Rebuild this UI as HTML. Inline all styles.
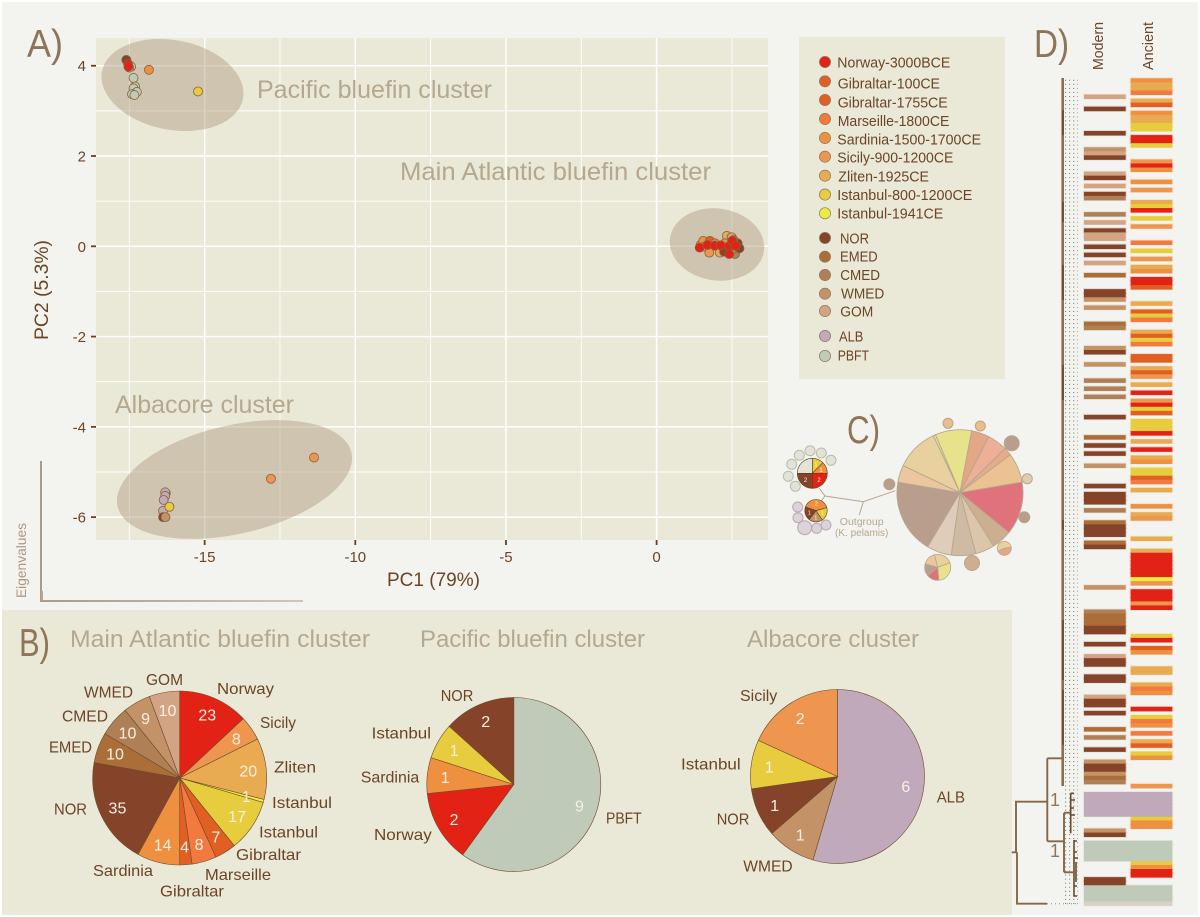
<!DOCTYPE html>
<html lang="en">
<head>
<meta charset="utf-8">
<title>Bluefin tuna PCA, cluster composition and phylogeny</title>
<style>
html,body{margin:0;padding:0;background:#fff;}
svg{display:block;font-family:"Liberation Sans",sans-serif;}
.lab{font-size:16px;fill:#6c4526;}
.leg{font-size:14.5px;fill:#6c4526;}
.clu{font-size:25px;fill:#b4a88f;}
.ttl{font-size:24px;fill:#b4a88f;}
.pan{font-size:39px;fill:#8f7558;}
.axt{font-size:19px;fill:#6c4526;}
</style>
</head>
<body>
<svg id="figure" width="1200" height="917" viewBox="0 0 1200 917" xmlns="http://www.w3.org/2000/svg">
  <defs>
    <linearGradient id="eigenFade" gradientUnits="userSpaceOnUse" x1="41" y1="601" x2="303" y2="601">
      <stop offset="0" stop-color="#ad9a82"/>
      <stop offset="1" stop-color="#d0c6b6"/>
    </linearGradient>
  </defs>
  <rect x="2" y="2" width="1196" height="913" fill="#f3f4ef"/>
  <rect x="2" y="610" width="1010" height="305" fill="#eae8d7"/>

  <!-- Panel A -->
  <text class="pan" x="27" y="57" textLength="36" lengthAdjust="spacingAndGlyphs">A)</text>
  <rect x="96" y="38" width="672" height="502" fill="#eae8d7"/>
  <g id="grid"></g>
  <g fill="#ae9a7e" fill-opacity="0.45">
    <ellipse cx="172.5" cy="85" rx="71.8" ry="44.8" transform="rotate(11 172.5 85)"/>
    <ellipse cx="717" cy="244.5" rx="47.4" ry="36" transform="rotate(8 717 244.5)"/>
    <ellipse cx="234.5" cy="479.5" rx="120" ry="54.3" transform="rotate(-13 234.5 479.5)"/>
  </g>
  <g id="axes"></g>
  <g id="points"></g>
  <text class="clu" x="257" y="98" textLength="235" lengthAdjust="spacingAndGlyphs">Pacific bluefin cluster</text>
  <text class="clu" x="400" y="180" textLength="311" lengthAdjust="spacingAndGlyphs">Main Atlantic bluefin cluster</text>
  <text class="clu" x="115" y="413" textLength="179" lengthAdjust="spacingAndGlyphs">Albacore cluster</text>
  <text class="axt" x="387" y="586" textLength="93" lengthAdjust="spacingAndGlyphs">PC1 (79%)</text>
  <text class="axt" x="48" y="340" transform="rotate(-90 48 340)" textLength="100" lengthAdjust="spacingAndGlyphs">PC2 (5.3%)</text>

  <!-- Eigenvalue inset -->
  <g id="eigen">
    <path d="M41 461V602" fill="none" stroke="#ad9a82" stroke-width="2"/>
    <rect x="41" y="600" width="262" height="2" fill="url(#eigenFade)"/>
    <text x="26" y="598" transform="rotate(-90 26 598)" font-size="13.5" fill="#a99a85" textLength="75" lengthAdjust="spacingAndGlyphs">Eigenvalues</text>
  </g>

  <!-- Legend -->
  <rect x="799" y="37" width="206" height="342" fill="#eae8d7"/>
  <g id="legend" stroke-width="0.7" stroke="#8d7a5e">
    <g><circle cx="825" cy="62" r="5.6" fill="#e22214"/><text class="leg" stroke="none" x="837.3" y="67.7" textLength="113" lengthAdjust="spacingAndGlyphs">Norway-3000BCE</text></g>
    <g><circle cx="825" cy="81.3" r="5.6" fill="#e15f22"/><text class="leg" stroke="none" x="837.7" y="88.3" textLength="102.3" lengthAdjust="spacingAndGlyphs">Gibraltar-100CE</text></g>
    <g><circle cx="825" cy="100" r="5.6" fill="#e15f22"/><text class="leg" stroke="none" x="837.7" y="107.3" textLength="110" lengthAdjust="spacingAndGlyphs">Gibraltar-1755CE</text></g>
    <g><circle cx="825" cy="119" r="5.6" fill="#f27a3f"/><text class="leg" stroke="none" x="837.7" y="126" textLength="111.7" lengthAdjust="spacingAndGlyphs">Marseille-1800CE</text></g>
    <g><circle cx="825" cy="138" r="5.6" fill="#ee9040"/><text class="leg" stroke="none" x="837.3" y="144.3" textLength="143.7" lengthAdjust="spacingAndGlyphs">Sardinia-1500-1700CE</text></g>
    <g><circle cx="825" cy="156.7" r="5.6" fill="#ee9550"/><text class="leg" stroke="none" x="837.3" y="162.7" textLength="116" lengthAdjust="spacingAndGlyphs">Sicily-900-1200CE</text></g>
    <g><circle cx="825" cy="175.7" r="5.6" fill="#e9ab52"/><text class="leg" stroke="none" x="838.3" y="181.3" textLength="90.7" lengthAdjust="spacingAndGlyphs">Zliten-1925CE</text></g>
    <g><circle cx="825" cy="194.6" r="5.6" fill="#e7cc3e"/><text class="leg" stroke="none" x="837.3" y="200" textLength="135" lengthAdjust="spacingAndGlyphs">Istanbul-800-1200CE</text></g>
    <g><circle cx="825" cy="213.3" r="5.6" fill="#edeb40"/><text class="leg" stroke="none" x="837.3" y="218.7" textLength="106" lengthAdjust="spacingAndGlyphs">Istanbul-1941CE</text></g>
    <g><circle cx="825" cy="238" r="5.6" fill="#85442a"/><text class="leg" stroke="none" x="840" y="243.3" textLength="29" lengthAdjust="spacingAndGlyphs">NOR</text></g>
    <g><circle cx="825" cy="256.7" r="5.6" fill="#ab6e38"/><text class="leg" stroke="none" x="840" y="261.7" textLength="37.7" lengthAdjust="spacingAndGlyphs">EMED</text></g>
    <g><circle cx="825" cy="275" r="5.6" fill="#af8056"/><text class="leg" stroke="none" x="840.3" y="280" textLength="39.7" lengthAdjust="spacingAndGlyphs">CMED</text></g>
    <g><circle cx="825" cy="293.7" r="5.6" fill="#c39367"/><text class="leg" stroke="none" x="841" y="298.7" textLength="43.3" lengthAdjust="spacingAndGlyphs">WMED</text></g>
    <g><circle cx="825" cy="311" r="5.6" fill="#d3a483"/><text class="leg" stroke="none" x="840.3" y="316.7" textLength="33" lengthAdjust="spacingAndGlyphs">GOM</text></g>
    <g><circle cx="825" cy="336" r="5.6" fill="#bfa9ba"/><text class="leg" stroke="none" x="839" y="341.7" textLength="24.3" lengthAdjust="spacingAndGlyphs">ALB</text></g>
    <g><circle cx="825" cy="356" r="5.6" fill="#bfcab8"/><text class="leg" stroke="none" x="837.7" y="360.7" textLength="31.3" lengthAdjust="spacingAndGlyphs">PBFT</text></g>
  </g>

  <!-- Panel B -->
  <text class="pan" x="19" y="656" textLength="31" lengthAdjust="spacingAndGlyphs">B)</text>
  <text class="ttl" x="70" y="647" textLength="300" lengthAdjust="spacingAndGlyphs">Main Atlantic bluefin cluster</text>
  <text class="ttl" x="420" y="647" textLength="225" lengthAdjust="spacingAndGlyphs">Pacific bluefin cluster</text>
  <text class="ttl" x="747" y="647" textLength="172" lengthAdjust="spacingAndGlyphs">Albacore cluster</text>
  <g id="pieB1"></g>
  <g id="pieB2"></g>
  <g id="pieB3"></g>
  <g>
    <text class="lab" x="146" y="685" textLength="37" lengthAdjust="spacingAndGlyphs">GOM</text>
    <text class="lab" x="84" y="697.7" textLength="49" lengthAdjust="spacingAndGlyphs">WMED</text>
    <text class="lab" x="62" y="721.7" textLength="46" lengthAdjust="spacingAndGlyphs">CMED</text>
    <text class="lab" x="49" y="752.7" textLength="43" lengthAdjust="spacingAndGlyphs">EMED</text>
    <text class="lab" x="54" y="814.3" textLength="33" lengthAdjust="spacingAndGlyphs">NOR</text>
    <text class="lab" x="93" y="876" textLength="60" lengthAdjust="spacingAndGlyphs">Sardinia</text>
    <text class="lab" x="160" y="896.7" textLength="64" lengthAdjust="spacingAndGlyphs">Gibraltar</text>
    <text class="lab" x="205" y="880" textLength="66" lengthAdjust="spacingAndGlyphs">Marseille</text>
    <text class="lab" x="236" y="860" textLength="65" lengthAdjust="spacingAndGlyphs">Gibraltar</text>
    <text class="lab" x="259" y="837.7" textLength="59" lengthAdjust="spacingAndGlyphs">Istanbul</text>
    <text class="lab" x="272" y="808" textLength="60" lengthAdjust="spacingAndGlyphs">Istanbul</text>
    <text class="lab" x="274" y="772.7" textLength="42" lengthAdjust="spacingAndGlyphs">Zliten</text>
    <text class="lab" x="260" y="728" textLength="36" lengthAdjust="spacingAndGlyphs">Sicily</text>
    <text class="lab" x="217" y="694" textLength="57" lengthAdjust="spacingAndGlyphs">Norway</text>
  </g>
  <g>
    <text class="lab" x="440.7" y="701" textLength="32.6" lengthAdjust="spacingAndGlyphs">NOR</text>
    <text class="lab" x="371.7" y="738.3" textLength="59.3" lengthAdjust="spacingAndGlyphs">Istanbul</text>
    <text class="lab" x="360.7" y="782.3" textLength="58.6" lengthAdjust="spacingAndGlyphs">Sardinia</text>
    <text class="lab" x="374" y="840" textLength="57.7" lengthAdjust="spacingAndGlyphs">Norway</text>
    <text class="lab" x="606" y="823.3" textLength="35.7" lengthAdjust="spacingAndGlyphs">PBFT</text>
  </g>
  <g>
    <text class="lab" x="740" y="701" textLength="37.3" lengthAdjust="spacingAndGlyphs">Sicily</text>
    <text class="lab" x="681" y="769.3" textLength="59.7" lengthAdjust="spacingAndGlyphs">Istanbul</text>
    <text class="lab" x="716.7" y="824.3" textLength="32.6" lengthAdjust="spacingAndGlyphs">NOR</text>
    <text class="lab" x="743.3" y="871.7" textLength="49.4" lengthAdjust="spacingAndGlyphs">WMED</text>
    <text class="lab" x="936.7" y="802.7" textLength="28.3" lengthAdjust="spacingAndGlyphs">ALB</text>
  </g>

  <!-- Panel C -->
  <text class="pan" x="847" y="443" textLength="33" lengthAdjust="spacingAndGlyphs">C)</text>
  <g fill="none" stroke="#b8a68f" stroke-width="1">
    <path d="M819.3 488.3L825 496L863.3 501.7L895.3 490.7M825 496L820 502.7M863.3 501.7L859.3 515"/>
  </g>
  <text x="861.7" y="525" font-size="10.5" fill="#b8a68f" text-anchor="middle">Outgroup</text>
  <text x="861.7" y="536" font-size="10" fill="#b8a68f" text-anchor="middle">(K. pelamis)</text>
  <g fill="#dfe3d8" stroke="#bdbba8" stroke-width="1">
    <circle cx="799.3" cy="455.3" r="5"/><circle cx="810" cy="450.7" r="5"/><circle cx="821.3" cy="453" r="5"/><circle cx="831" cy="460.3" r="5"/><circle cx="791.7" cy="464.3" r="5"/><circle cx="788.3" cy="476.3" r="5"/><circle cx="795.3" cy="486.3" r="5"/>
  </g>
  <g fill="#dbd2da" stroke="#b8a9b0" stroke-width="1">
    <circle cx="797.7" cy="507" r="5"/><circle cx="798" cy="517.7" r="5"/><circle cx="804.7" cy="527.7" r="7"/><circle cx="816.7" cy="528.3" r="5"/><circle cx="826" cy="525" r="5"/>
  </g>
  <g stroke="#b8a68f" stroke-width="1">
    <circle cx="948" cy="423.3" r="5" fill="#ecbd8a"/><circle cx="980.3" cy="426" r="5" fill="#ecbd8a"/><circle cx="1011.7" cy="443.3" r="7.5" fill="#b99e8e"/><circle cx="1027.3" cy="478.7" r="5" fill="#e0ccb0"/><circle cx="1024.3" cy="517.3" r="5.5" fill="#b99e8e"/><circle cx="972" cy="563" r="7.5" fill="#ceae90"/><circle cx="889.3" cy="484.3" r="5.5" fill="#b99e8e"/>
  </g>
  <g id="pieC"></g>

  <!-- Panel D -->
  <text class="pan" x="1034" y="57" textLength="35" lengthAdjust="spacingAndGlyphs">D)</text>
  <text x="1103" y="70" transform="rotate(-90 1103 70)" font-size="15" fill="#6c4526" textLength="48" lengthAdjust="spacingAndGlyphs">Modern</text>
  <text x="1153" y="70" transform="rotate(-90 1153 70)" font-size="15" fill="#6c4526" textLength="48" lengthAdjust="spacingAndGlyphs">Ancient</text>
  <g id="tips"></g>
  <g fill="none">
    <path d="M1062.7 78V786" stroke="#8b6f50" stroke-width="2.6"/>
    <path d="M1063 110V135M1063 202V222M1063 265V300M1063 365V400M1063 520V530M1063 620V680M1063 690V745" stroke="#5e3d1f" stroke-width="1.2"/>
    <path d="M1011.7 852.3H1017M1016 852.3V801.7H1047.3M1017 852.3V903.7H1047M1047.3 758.3V841.3M1047.3 758.3H1062M1047.3 841.3H1064M1064 812.7V872.3M1064 812.7H1070.7M1064 872.3H1073.3" stroke="#856748" stroke-width="1.9"/>
    <path d="M1070.7 793.3V833.3M1070.7 793.3H1074M1070.7 800H1075M1070.7 808H1074M1070.7 815H1075" stroke="#6a4a2a" stroke-width="1.6"/>
    <path d="M1074 840V896.7M1074 841H1077M1074 852H1077M1074 858H1078M1076 862V882M1074 886H1077M1074 896H1077" stroke="#6a4a2a" stroke-width="1.6"/>
    <path d="M1047 903.7H1078" stroke="#b0a696" stroke-width="1.4" stroke-dasharray="1 3"/>
  </g>
  <text x="1055" y="806" font-size="18" fill="#8f7558" text-anchor="middle">1</text>
  <text x="1055" y="857" font-size="18" fill="#8f7558" text-anchor="middle">1</text>
  <g id="stripeHalos"></g>
  <g id="stripes"></g>

<script>
// ---- shared palette (population code -> fill) ----
const popColors = {R:'#e22214',G:'#e15f22',H:'#e15f22',M:'#f27a3f',S:'#ee9040',I:'#ee9550',Z:'#e9ab52',Y:'#e7cc3e',J:'#edeb40',N:'#85442a',E:'#ab6e38',C:'#af8056',W:'#c39367',O:'#d3a483',A:'#bfa9ba',P:'#bfcab8',K:'#d9d0c6'};

// ---- Panel A data ----
const xMajorTicks = [-15,-10,-5,0];
const xMinorTicks = [-17.5,-12.5,-7.5,-2.5,2.5];
const yMajorTicks = [4,2,0,-2,-4,-6];
const yMinorTicks = [3,1,-1,-3,-5];
const scatterPc1 = [-17.44,-17.5,-17.36,-17.31,-17.36,-17.25,-17.41,-17.33,-17.6,-17.54,-17.53,-16.85,-15.22,
  -16.29,-16.31,-16.31,-16.36,-16.38,-16.38,-16.3,-16.17,-11.37,-12.8,
  1.46,1.55,1.77,1.57,1.75,2.10,2.33,2.49,2.24,1.94,2.27,2.60,2.69,2.75,2.55,2.49,
  1.43,1.69,1.93,2.13,2.41,2.51,2.62,2.41];
const scatterPc2 = [3.98,3.96,3.73,3.54,3.5,3.42,3.37,3.35,4.13,4.04,3.98,3.91,3.43,
  -5.47,-5.45,-5.53,-5.62,-5.86,-6.0,-6.0,-5.77,-4.68,-5.15,
  0.03,0.12,0.12,-0.008,-0.14,-0.14,0.23,0.20,-0.12,0.066,0.066,-0.17,0.066,-0.045,0.14,-0.08,
  -0.03,0.03,0.014,0.02,0.007,0.12,0.007,-0.17];
const scatterPop = ['P','P','P','P','P','P','P','P','N','R','R','S','Y',
  'W','A','A','A','A','N','W','Y','I','I',
  'S','S','H','S','I','Z','Z','O','N','M','S','C','N','N','E','W',
  'R','R','R','R','R','R','R','R'];
const eigenValues = [79,5.3,1.6,1.1,0.8,0.6];

// ---- Panel B data ----
const atlanticCounts = [23,8,20,1,17,7,8,4,14,35,10,10,9,10];
const atlanticPops = ['R','I','Z','J','Y','H','M','G','S','N','E','C','W','O'];
const pacificCounts = [9,2,1,1,2];
const pacificPops = ['P','R','S','Y','N'];
const albacoreCounts = [6,1,1,1,2];
const albacorePops = ['A','W','N','Y','I'];

// ---- Panel C data ----
const hapMainShares = [33.7,16.6,18.3,7.4,27.3,49,18.5,17.7,22.5,23,68.6,15.9,39.5,2];
const hapMainFills = ['#e9e28d','#e3a785','#ebb096','#e5ab8b','#ebc291','#e0727b','#ceae90','#dcc6ab','#cfbba3','#e0ccba','#b99e8e','#ebc69e','#e9d19f','#ebe596'];
const hapSideShares = [85,105,55,55,60];
const hapSideFills = ['#e9d19f','#e9e28d','#e0727b','#b99e8e','#ebc69e'];
const hapSmallShares = [165,195];
const hapSmallFills = ['#e3a785','#e9d19f'];
const hapPacificCounts = [1,1,2,2,2];
const hapPacificFills = ['#e7cc3e','#ee9040','#e22214','#85442a','#dfe3d8'];
const hapAlbacoreCounts = [2,1,1,1];
const hapAlbacoreFills = ['#ee9040','#e7cc3e','#c39367','#85442a'];

// ---- Panel D data (tree rank + population code) ----
const treeRowCount = 204;
const modernSamples = '4O 7N 13N 17W 18O 19N 23O 24N 26O 28N 29C 33C 35O 37N 38O 39O 41N 43N 45O 48E 52N 53N 54W 56W 60E 61C 66W 67N 70W 74C 76C 78C 83N 88E 90N 92N 95W 100N 102N 103N 104N 106C 109E 110N 111N 112N 114E 115N 125W 131C 132E 133E 134E 135N 136N 139N 142O 143N 144N 147N 148N 152O 153N 154N 156N 160E 162C 165N 168W 169N 170N 171W 172E 173C 185W 186N 197N 198N'.split(' ');
const ancientSamples = '0S 1Z 2Z 3M 5Z 6H 8S 9Z 10Z 11Y 12Y 14R 15R 16Y 20I 21R 22S 25S 27I 30Z 31Y 32R 34Y 36I 40M 42Y 44I 46Z 47S 49R 50R 51H 55Z 57H 58Y 59M 62Z 63H 64Y 65M 68H 69H 71Z 72H 73I 75Z 77R 79I 80R 81Y 82H 84Y 85Y 86Y 87R 89Z 91R 93Z 94S 96Y 97Y 98H 99M 101Z 105S 107Z 108I 113Z 116Z 117R 118R 119R 120R 121R 122R 123J 124I 126R 127R 128R 129I 130R 137Y 138R 140H 141S 145Z 146Z 149Z 150M 151S 155R 157Y 158M 159S 161M 163Z 164H 166Y 167S 174I 182Y 183S 184S 193Y 194S 195R 196R'.split(' ');
const sharedSamples = '176A 177A 178A 179A 180A 181A 188P 189P 190P 191P 192P 199P 200P 201P 202P 203K'.split(' ');

// ---- helpers ----
const NS = 'http://www.w3.org/2000/svg';
function make(tag, parent, attrs){
  const el = document.createElementNS(NS, tag);
  for (const k in attrs) el.setAttribute(k, attrs[k]);
  parent.appendChild(el);
  return el;
}
const xScale = v => 656.6 + v * 30.13;
const yScale = v => 246.3 - v * 45.14;
const rowY = r => 78.3 + r * 4.055;

// ---- gridlines ----
const gridG = document.getElementById('grid');
function gridLine(x1,y1,x2,y2,w){
  const l = make('line', gridG, {x1:x1,y1:y1,x2:x2,y2:y2,stroke:'#ffffff','stroke-width':w});
  
  
}
xMinorTicks.forEach(v => gridLine(xScale(v),38,xScale(v),540,0.9));
yMinorTicks.forEach(v => gridLine(96,yScale(v),768,yScale(v),0.9));
xMajorTicks.forEach(v => gridLine(xScale(v),38,xScale(v),540,1.5));
yMajorTicks.forEach(v => gridLine(96,yScale(v),768,yScale(v),1.5));

// ---- axes ----
const axesG = document.getElementById('axes');
xMajorTicks.forEach(v => {
  const m = make('line', axesG, {x1:xScale(v),y1:540,x2:xScale(v),y2:545,stroke:'#6b3f1f','stroke-width':1.8});
  
  
  const t = make('text', axesG, {x:xScale(v),y:562,'font-size':15,fill:'#6c4526','text-anchor':'middle'});
  
  
  t.textContent = v;
});
yMajorTicks.forEach(v => {
  const m = make('line', axesG, {x1:91,y1:yScale(v),x2:96,y2:yScale(v),stroke:'#6b3f1f','stroke-width':1.8});
  
  
  const t = make('text', axesG, {x:86,y:yScale(v)+5.5,'font-size':15,fill:'#6c4526','text-anchor':'end'});
  
  
  t.textContent = v;
});

// ---- scatter ----
const pointsG = document.getElementById('points');
scatterPc1.forEach((v,i) => {
  const c = make('circle', pointsG, {cx:xScale(v),cy:yScale(scatterPc2[i]),r:4.5,fill:popColors[scatterPop[i]],stroke:'#86623c','stroke-width':0.8});
  
  
});

// ---- eigenvalue bars ----
const eigenG = document.getElementById('eigen');
eigenValues.forEach((v,i) => {
  const b = make('rect', eigenG, {x:41+i*2,y:601-v*0.127,width:2,height:v*0.127,fill:'#b7a690'});
  
  
});

// ---- pies ----
function drawPie(parent, values, fills, cx, cy, r, opts){
  const total = values.reduce((a,b) => a+b, 0);
  let angle = (opts.start || 0) * Math.PI / 180;
  const mids = [];
  values.forEach((v,i) => {
    const sweep = v / total * 2 * Math.PI;
    const a2 = angle + sweep;
    const x1 = cx + r*Math.sin(angle), y1 = cy - r*Math.cos(angle);
    const x2 = cx + r*Math.sin(a2), y2 = cy - r*Math.cos(a2);
    const d = 'M'+cx+' '+cy+'L'+x1+' '+y1+'A'+r+' '+r+' 0 '+(sweep>Math.PI?1:0)+' 1 '+x2+' '+y2+'Z';
    const p = make('path', parent, {d:d,fill:fills[i],stroke:opts.stroke,'stroke-width':opts.sw});
    
    
    mids.push(angle + sweep/2);
    angle = a2;
  });
  if (opts.labelR){
    values.forEach((v,i) => {
      const t = make('text', parent, {x:cx+opts.labelR*Math.sin(mids[i]),y:cy-opts.labelR*Math.cos(mids[i])+opts.size*0.36,'font-size':opts.size,fill:'#f7efe3','text-anchor':'middle'});
      
      
      t.textContent = v;
    });
  }
}
const pieOpts = {stroke:'#6d4a2b',sw:0.6,labelR:69,size:16};
drawPie(document.getElementById('pieB1'), atlanticCounts, atlanticPops.map(c => popColors[c]), 179.7, 778, 87, pieOpts);
drawPie(document.getElementById('pieB2'), pacificCounts, pacificPops.map(c => popColors[c]), 513.8, 784.5, 87, pieOpts);
drawPie(document.getElementById('pieB3'), albacoreCounts, albacorePops.map(c => popColors[c]), 837.5, 776.5, 87, pieOpts);

const pieC = document.getElementById('pieC');
drawPie(pieC, hapMainShares, hapMainFills, 960, 492.7, 63, {stroke:'#b8a68f',sw:0.9,start:-23});
drawPie(pieC, hapSideShares, hapSideFills, 937.7, 567.3, 13, {stroke:'#b8a68f',sw:0.8,start:-15});
drawPie(pieC, hapSmallShares, hapSmallFills, 1004.3, 548.3, 7, {stroke:'#b8a68f',sw:0.8,start:80});
drawPie(pieC, hapPacificCounts, hapPacificFills, 812.3, 473.3, 15, {stroke:'#5e3d1f',sw:0.6,labelR:9.5,size:6});
drawPie(pieC, hapAlbacoreCounts, hapAlbacoreFills, 816, 510.7, 11.2, {stroke:'#5e3d1f',sw:0.6,start:-70,labelR:7,size:5.5});

// ---- tree tips ----
const tipsG = document.getElementById('tips');
let tipPath = '';
for (let r = 0; r < treeRowCount; r++) { tipPath += 'M1065 ' + (rowY(r)+2) + 'H1078'; }
const tip = make('path', tipsG, {d:tipPath,fill:'none',stroke:'#85857c','stroke-width':1.1,'stroke-dasharray':'1.1 3'});



// ---- stripes ----
const stripesG = document.getElementById('stripes');
const halosG = document.getElementById('stripeHalos');
function stripe(sample, x, w){
  const rank = parseInt(sample, 10);
  const pop = sample.slice(-1);
  const h = make('rect', halosG, {x:x-1,y:rowY(rank)-1,width:w+2,height:6.1,fill:popColors[pop],'fill-opacity':0.16});
  
  
  const s = make('rect', stripesG, {x:x,y:rowY(rank),width:w,height:4.5,fill:popColors[pop]});
  
  
}
modernSamples.forEach(s => stripe(s, 1084, 41.7));
ancientSamples.forEach(s => stripe(s, 1130.7, 41.6));
sharedSamples.forEach(s => stripe(s, 1084, 88.3));
</script>
</svg>
</body>
</html>
